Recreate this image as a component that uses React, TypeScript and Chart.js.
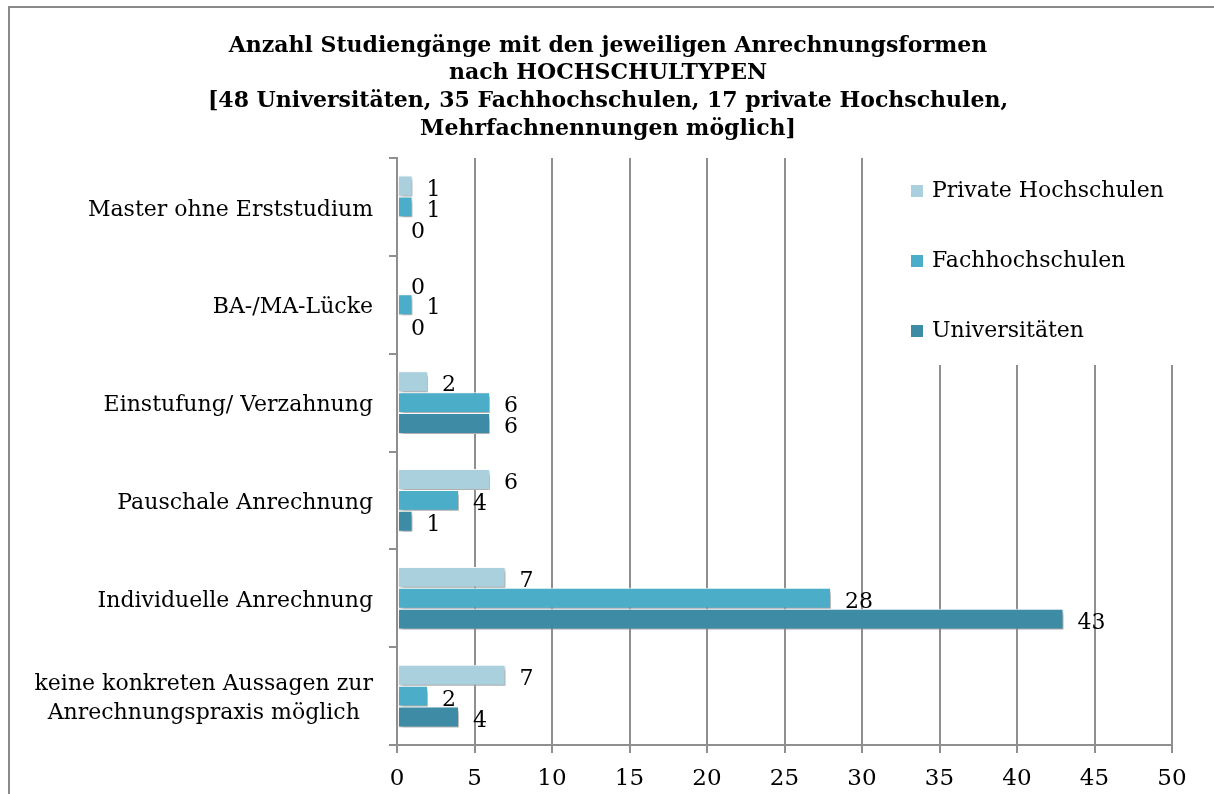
import React, { useEffect, useRef } from "react";
import { Chart, registerables } from "chart.js";

Chart.register(...registerables);

const TITLE_LINES = [
  "Anzahl Studiengänge mit den jeweiligen Anrechnungsformen",
  "nach HOCHSCHULTYPEN",
  "[48 Universitäten, 35 Fachhochschulen, 17 private Hochschulen,",
  "Mehrfachnennungen möglich]",
];

const CATEGORIES: string[][] = [
  ["Master ohne Erststudium"],
  ["BA-/MA-Lücke"],
  ["Einstufung/ Verzahnung"],
  ["Pauschale Anrechnung"],
  ["Individuelle Anrechnung"],
  ["keine konkreten Aussagen zur", "Anrechnungspraxis möglich"],
];

const SERIES_NAMES = ["Private Hochschulen", "Fachhochschulen", "Universitäten"];
const PRIVATE = [1, 0, 2, 6, 7, 7];
const FACHHOCHSCHULEN = [1, 1, 6, 4, 28, 2];
const UNIVERSITAETEN = [0, 0, 6, 1, 43, 4];
const COLORS = ["#aacfdd", "#4badc7", "#3d8ba4"];

const X_MIN = 0;
const X_MAX = 50;
const X_STEP = 5;

const SERIF = "'DejaVu Serif', serif";
const GRID = "#8f8f8f";

export default function App() {
  const ref = useRef<HTMLCanvasElement | null>(null);

  useEffect(() => {
    if (!ref.current) return;
    const values = [PRIVATE, FACHHOCHSCHULEN, UNIVERSITAETEN];

    const customPlugin = {
      id: "custom",
      beforeDraw(chart: any) {
        const { ctx, width, height } = chart;
        ctx.save();
        ctx.fillStyle = "#ffffff";
        ctx.fillRect(0, 0, width, height);
        ctx.fillStyle = "#8a8a8a";
        ctx.fillRect(8, 6, 2, height);
        ctx.fillRect(8, 6, width, 2);
        // title
        ctx.fillStyle = "#000000";
        ctx.font = `bold 22px ${SERIF}`;
        ctx.textAlign = "center";
        ctx.textBaseline = "middle";
        TITLE_LINES.forEach((line, k) => {
          ctx.fillText(line, width / 2 + 1, 46 + k * 27.7);
        });
        ctx.restore();
      },
      beforeDatasetsDraw(chart: any) {
        const { ctx, chartArea } = chart;
        ctx.save();
        ctx.fillStyle = "#ffffff";
        ctx.fillRect(chartArea.right - 276, chartArea.top - 3, 290, 210);
        ctx.font = `22px ${SERIF}`;
        ctx.textBaseline = "middle";
        ctx.textAlign = "left";
        SERIES_NAMES.forEach((name, i) => {
          const cy = chartArea.top + 33 + i * 70;
          ctx.fillStyle = COLORS[i];
          ctx.fillRect(chartArea.right - 261, cy - 6, 12, 12);
          ctx.fillStyle = "#000000";
          ctx.fillText(name, chartArea.right - 240, cy);
        });
        ctx.restore();
        ctx.save();
        ctx.shadowColor = "rgba(0,0,0,0.35)";
        ctx.shadowBlur = 4;
        ctx.shadowOffsetX = 2;
        ctx.shadowOffsetY = 3;
      },
      afterDatasetsDraw(chart: any) {
        const { ctx, chartArea } = chart;
        ctx.restore();
        ctx.save();
        ctx.font = `22px ${SERIF}`;
        ctx.fillStyle = "#000000";
        ctx.textBaseline = "middle";
        ctx.textAlign = "left";
        chart.data.datasets.forEach((ds: any, di: number) => {
          const meta = chart.getDatasetMeta(di);
          meta.data.forEach((el: any, i: number) => {
            ctx.fillText(String(ds.data[i]), el.x + 14, el.y + 4);
          });
        });
        const yScale = chart.scales.y;
        const lh = 29;
        CATEGORIES.forEach((lines, i) => {
          const cy = yScale.getPixelForValue(i) + 3;
          const widths = lines.map((l) => ctx.measureText(l).width);
          const w = Math.max(...widths);
          const right = chartArea.left - 24;
          const startY = cy - ((lines.length - 1) * lh) / 2;
          ctx.textAlign = "center";
          lines.forEach((l, k) => {
            ctx.fillText(l, right - w / 2, startY + k * lh);
          });
        });
        ctx.restore();
      },
    };

    const chart = new Chart(ref.current, {
      type: "bar",
      data: {
        labels: CATEGORIES.map((c) => c.join(" ")),
        datasets: SERIES_NAMES.map((name, i) => ({
          label: name,
          data: values[i],
          backgroundColor: COLORS[i],
          borderColor: "#ffffff",
          borderWidth: 1,
          borderSkipped: false,
          categoryPercentage: 0.64,
          barPercentage: 1.0,
        })),
      },
      options: {
        indexAxis: "y",
        animation: false,
        responsive: false,
        maintainAspectRatio: false,
        layout: { padding: { left: 10, right: 42, top: 158, bottom: 0 } },
        plugins: {
          legend: { display: false },
          tooltip: { enabled: false },
          title: { display: false },
        },
        scales: {
          x: {
            type: "linear",
            min: X_MIN,
            max: X_MAX,
            ticks: {
              stepSize: X_STEP,
              color: "#000000",
              font: { family: SERIF, size: 23 },
              padding: 12,
            },
            grid: {
              color: GRID,
              lineWidth: 2,
              tickLength: 8,
              drawTicks: true,
            },
            border: { display: true, color: GRID, width: 2 },
            afterFit: (s: any) => {
              s.height = 49;
            },
          },
          y: {
            type: "category",
            ticks: { display: false },
            grid: {
              offset: true,
              drawOnChartArea: false,
              color: GRID,
              lineWidth: 2,
              tickLength: 8,
            },
            border: { display: true, color: GRID, width: 2 },
            afterFit: (s: any) => {
              s.width = 387;
            },
          },
        },
      },
      plugins: [customPlugin],
    } as any);

    return () => chart.destroy();
  }, []);

  return (
    <div
      style={{
        position: "fixed",
        left: 0,
        top: 0,
        width: 1214,
        height: 794,
        overflow: "hidden",
        background: "#ffffff",
      }}
    >
      <canvas
        ref={ref}
        width={1214}
        height={794}
        style={{ position: "absolute", left: 0, top: 0, width: 1214, height: 794 }}
      />
    </div>
  );
}
